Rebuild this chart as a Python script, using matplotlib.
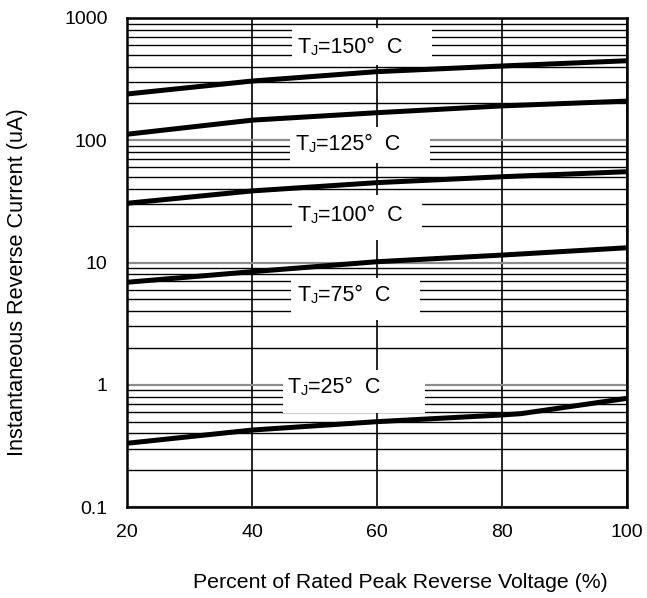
import matplotlib
matplotlib.use("Agg")
import matplotlib.pyplot as plt
from matplotlib.patches import Rectangle
from matplotlib.ticker import FixedLocator, NullFormatter

plt.rcParams['font.family'] = ['Liberation Sans', 'DejaVu Sans']

# ---- data ----
x_pct = [20, 40, 60, 80, 100]
i_150 = [239, 305, 364, 405, 447]
i_125 = [112, 146, 168, 191, 209]
i_100 = [30.5, 38.5, 45.0, 50.3, 55.3]
i_75 = [6.89, 8.41, 10.15, 11.5, 13.2]
x_25 = [20, 40, 60, 80, 83, 100]
i_25 = [0.332, 0.426, 0.499, 0.566, 0.58, 0.774]

x_ticks = [20, 40, 60, 80, 100]
y_ticks = [0.1, 1, 10, 100, 1000]
y_ticklabels = ["0.1", "1", "10", "100", "1000"]
label_rest = ["=150°  C", "=125°  C", "=100°  C", "=75°  C", "=25°  C"]

fig = plt.figure(figsize=(6.47, 5.98), dpi=100)
ax = fig.add_axes([127 / 647, 1 - 507 / 598, 500 / 647, 489 / 598])

ax.set_yscale('log')
ax.set_xlim(20, 100)
ax.set_ylim(0.1, 1000)
ax.set_xticks(x_ticks)
ax.set_xticklabels([str(v) for v in x_ticks])
ax.set_yticks(y_ticks)
ax.set_yticklabels(y_ticklabels)
minors = [m * d for d in (0.1, 1, 10, 100) for m in range(2, 10)]
ax.yaxis.set_minor_locator(FixedLocator(minors))
ax.yaxis.set_minor_formatter(NullFormatter())

ax.tick_params(axis='both', which='both', length=0, labelsize=14)
ax.tick_params(axis='y', pad=14)
ax.tick_params(axis='x', pad=12)

ax.yaxis.grid(True, which='minor', color='black', lw=1.0, zorder=1)
ax.yaxis.grid(True, which='major', color='#8c8c8c', lw=1.6, zorder=1)
ax.xaxis.grid(True, which='major', color='black', lw=1.2, zorder=1)
ax.set_axisbelow(True)
for s in ax.spines.values():
    s.set_linewidth(1.8)
    s.set_color('black')
    s.set_zorder(6)

# white label boxes (axes fraction: x, y_bottom, width, height)
boxes = [
    (0.330, 0.9039, 0.280, 0.0757),
    (0.326, 0.7035, 0.280, 0.0736),
    (0.330, 0.5460, 0.260, 0.0920),
    (0.328, 0.3824, 0.258, 0.0859),
    (0.312, 0.1922, 0.284, 0.0880),
]
for (bx, by, bw, bh) in boxes:
    ax.add_patch(Rectangle((bx, by), bw, bh, transform=ax.transAxes,
                           facecolor='white', edgecolor='none', zorder=3))

# curves
for xs, ys in [(x_pct, i_150), (x_pct, i_125), (x_pct, i_100), (x_pct, i_75), (x_25, i_25)]:
    ax.plot(xs, ys, color='black', lw=3.6, solid_capstyle='butt', zorder=4,
            clip_on=True)

# labels
label_pos = [(0.342, 0.9387), (0.338, 0.7403), (0.342, 0.5971), (0.342, 0.4335), (0.322, 0.2434)]
for (lx, ly), rest in zip(label_pos, label_rest):
    t1 = ax.text(lx, ly, "T", transform=ax.transAxes, fontsize=15.5,
                 ha='left', va='center', zorder=5)
    t2 = ax.annotate("J", xy=(1, 0), xycoords=t1, fontsize=10.5,
                     ha='left', va='bottom', zorder=5)
    ax.annotate(rest, xy=(1, 0), xycoords=(t2, t1), fontsize=15.5,
                ha='left', va='bottom', zorder=5)

ax.set_xlabel("Percent of Rated Peak Reverse Voltage (%)", fontsize=15.3)
ax.set_ylabel("Instantaneous Reverse Current (uA)", fontsize=15.7)
ax.xaxis.label.set_va('center')
ax.yaxis.label.set_va('center')
ax.xaxis.set_label_coords(0.546, -0.155)
ax.yaxis.set_label_coords(-0.218, 0.46)

fig.savefig("out.png", dpi=100)
